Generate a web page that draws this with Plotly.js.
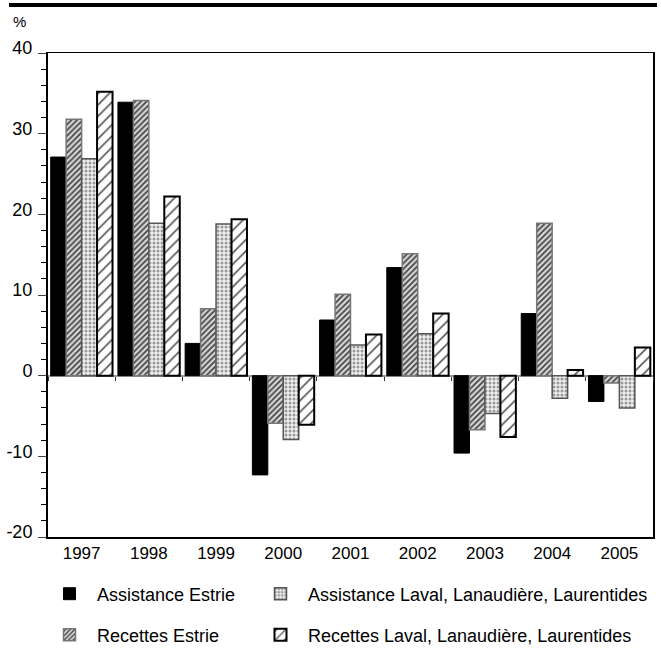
<!DOCTYPE html>
<html>
<head>
<meta charset="utf-8">
<script src="https://cdn.plot.ly/plotly-3.0.1.min.js"></script>
<style>html,body{margin:0;padding:0;background:#fff;}#chart{width:661px;height:649px;}</style>
</head>
<body>
<div id="chart"></div>
<script>
const years = ['1997','1998','1999','2000','2001','2002','2003','2004','2005'];
const assistanceEstrie = [27.1, 33.9, 4.0, -12.3, 6.9, 13.4, -9.6, 7.7, -3.2];
const recettesEstrie   = [31.8, 34.1, 8.3, -5.9, 10.1, 15.1, -6.7, 18.9, -0.9];
const assistanceLLL    = [26.9, 18.9, 18.8, -7.9, 3.8, 5.2, -4.7, -2.8, -4.0];
const recettesLLL      = [35.2, 22.2, 19.4, -6.1, 5.1, 7.7, -7.6, 0.7, 3.5];
const names = ['Assistance Estrie','Recettes Estrie','Assistance Laval, Lanaudière, Laurentides','Recettes Laval, Lanaudière, Laurentides'];
const yTicks = [-20,-10,0,10,20,30,40];

const font = 'Liberation Sans, Arial, Helvetica, sans-serif';

const traces = [
  {type:'bar', x:years, y:assistanceEstrie, name:names[0], legend:'legend',
   marker:{color:'#000', line:{color:'#000', width:1}}},
  {type:'bar', x:years, y:recettesEstrie, name:names[1], legend:'legend3',
   marker:{color:'#fff', line:{color:'#777', width:1.5},
     pattern:{shape:'/', fgcolor:'#444', bgcolor:'#d8d8d8', size:4, solidity:0.45}}},
  {type:'bar', x:years, y:assistanceLLL, name:names[2], legend:'legend2',
   marker:{color:'#fff', line:{color:'#555', width:1.5},
     pattern:{shape:'.', fgcolor:'#999', bgcolor:'#f0f0f0', size:4, solidity:0.45}}},
  {type:'bar', x:years, y:recettesLLL, name:names[3], legend:'legend4',
   marker:{color:'#fff', line:{color:'#000', width:2},
     pattern:{shape:'/', fgcolor:'#555', bgcolor:'#fff', size:8, solidity:0.2}}},
  {type:'scatter', x:[], y:[], xaxis:'x2', showlegend:false, hoverinfo:'skip'}
];

function leg(xpx, ypx){
  return {orientation:'h', x:(xpx-48)/605, xanchor:'left', y:(537-ypx)/484, yanchor:'middle',
    font:{size:18, family:font}, itemwidth:45, bgcolor:'rgba(0,0,0,0)'};
}

const layout = {
  width:661, height:649,
  margin:{l:48, r:8, t:53, b:112, autoexpand:false},
  paper_bgcolor:'#fff', plot_bgcolor:'#fff',
  font:{family:font, color:'#000', size:15},
  barmode:'group', bargap:0.08, bargroupgap:0,
  showlegend:true,
  xaxis:{type:'category', showline:true, mirror:true, linecolor:'#000', linewidth:1.5,
    ticks:'', tickfont:{size:17, family:font}, showgrid:false, zeroline:false},
  xaxis2:{overlaying:'x', anchor:'free', position:1/3, range:[-0.5,8.5], tick0:0.5, dtick:1,
    showticklabels:false, ticks:'outside', ticklen:4, tickwidth:1, tickcolor:'#333',
    showline:false, showgrid:false, zeroline:false},
  yaxis:{range:[-20,40], tickvals:yTicks, ticktext:yTicks.map(String), ticks:'outside', ticklen:8, tickwidth:1,
    minor:{dtick:2, tick0:0, ticks:'outside', ticklen:5, tickwidth:1, tickcolor:'#000', showgrid:false},
    showline:true, mirror:true, linecolor:'#000', linewidth:2, showgrid:false,
    zeroline:true, zerolinecolor:'#999', zerolinewidth:2,
    tickfont:{size:18, family:font}, ticklabelshift:-5, ticklabelstandoff:2},
  legend: leg(42, 594),
  legend2: leg(253, 594),
  legend3: leg(42, 635),
  legend4: leg(253, 635),
  annotations:[{text:'%', xref:'paper', yref:'paper', x:(19-48)/605, y:(537-22)/484,
    xanchor:'center', yanchor:'middle', showarrow:false, font:{size:15, family:font}}],
  shapes:[{type:'line', xref:'paper', yref:'paper', x0:(9-48)/605, x1:(657-48)/605,
    y0:(537-5)/484, y1:(537-5)/484, line:{color:'#000', width:4}}]
};

Plotly.newPlot('chart', traces, layout, {displayModeBar:false, staticPlot:true});
</script>
</body>
</html>
